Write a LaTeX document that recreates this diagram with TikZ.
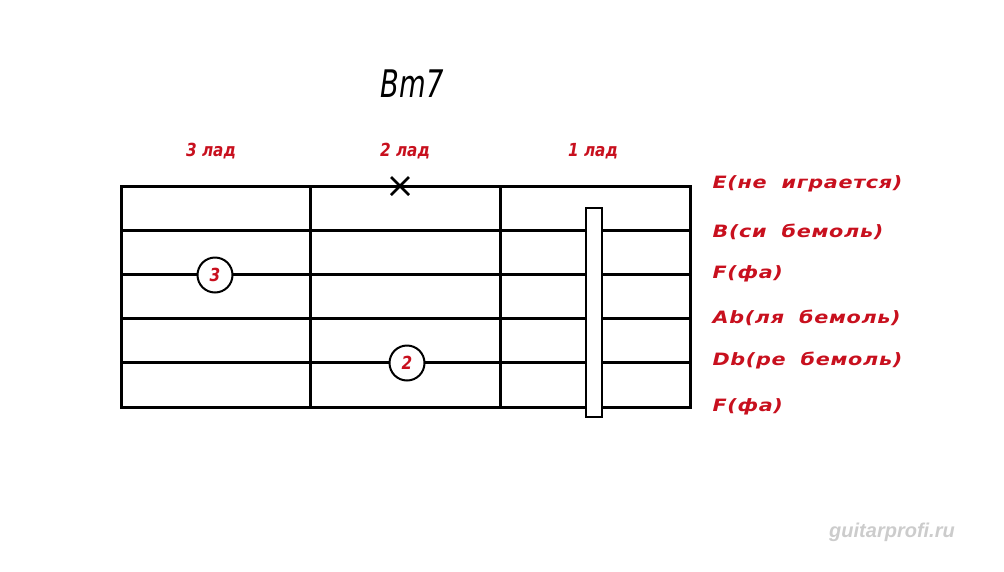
\documentclass[tikz,border=0pt]{standalone}
\usepackage{fontspec}
\setmainfont{DejaVu Sans}
\newfontfamily\cadfont[FakeStretch=1.22,LetterSpace=4,WordSpace=1.9]{DejaVu Sans}
\newfontfamily\fretfont[FakeStretch=0.85]{DejaVu Sans}
\newfontfamily\titlefont[FakeStretch=0.72]{DejaVu Sans}
\newfontfamily\webfont{Liberation Sans}
\definecolor{chordred}{RGB}{200,16,30}

\begin{document}
\begin{tikzpicture}[x=1pt,y=-1pt,
    lab/.style={text=chordred,font=\cadfont\bfseries\itshape\fontsize{17}{17}\selectfont},
    fretlab/.style={text=chordred,font=\fretfont\bfseries\itshape\fontsize{18}{18}\selectfont},
    finger/.style={circle,draw,line width=2pt,fill=white,minimum size=35pt,inner sep=0pt,
        text=chordred,font=\fretfont\bfseries\itshape\fontsize{18}{18}\selectfont}]
        \useasboundingbox (0,0) rectangle (1004,571);
        \foreach \s in {0,...,5} \draw[line width=3pt,line cap=rect] (121,{186+44.2*\s}) -- (690,{186+44.2*\s});
        \foreach \f in {0,...,3} \draw[line width=3pt,line cap=rect] ({121+189.67*\f},186) -- ({121+189.67*\f},407);
        \draw[line width=2.5pt,fill=white] (586,208) rectangle (602,417);
        \draw[line width=2.5pt] (391,177) -- (409,195) (391,195) -- (409,177);
        \node[finger] (f3) at (215,275) {3};
        \node[finger] (f2) at (407,363) {2};
        \node[font=\titlefont\itshape\fontsize{38}{38}\selectfont] (title) at (412,84) {Bm7};
        \node[fretlab] (fret3) at (211,151) {3 лад};
        \node[fretlab] (fret2) at (405,151) {2 лад};
        \node[fretlab] (fret1) at (593,151) {1 лад};
        \node[lab,anchor=west] (s1) at (709,184) {E(не играется)};
        \node[lab,anchor=west] (s2) at (709,232) {B(си бемоль)};
        \node[lab,anchor=west] (s3) at (709,274) {F(фа)};
        \node[lab,anchor=west] (s4) at (709,318) {Ab(ля бемоль)};
        \node[lab,anchor=west] (s5) at (709,361) {Db(ре бемоль)};
        \node[lab,anchor=west] (s6) at (709,407) {F(фа)};
        \node[text=black!20,font=\webfont\bfseries\itshape\fontsize{20}{20}\selectfont] (site) at (892,532) {guitarprofi.ru};
    \end{tikzpicture}
\end{document}
